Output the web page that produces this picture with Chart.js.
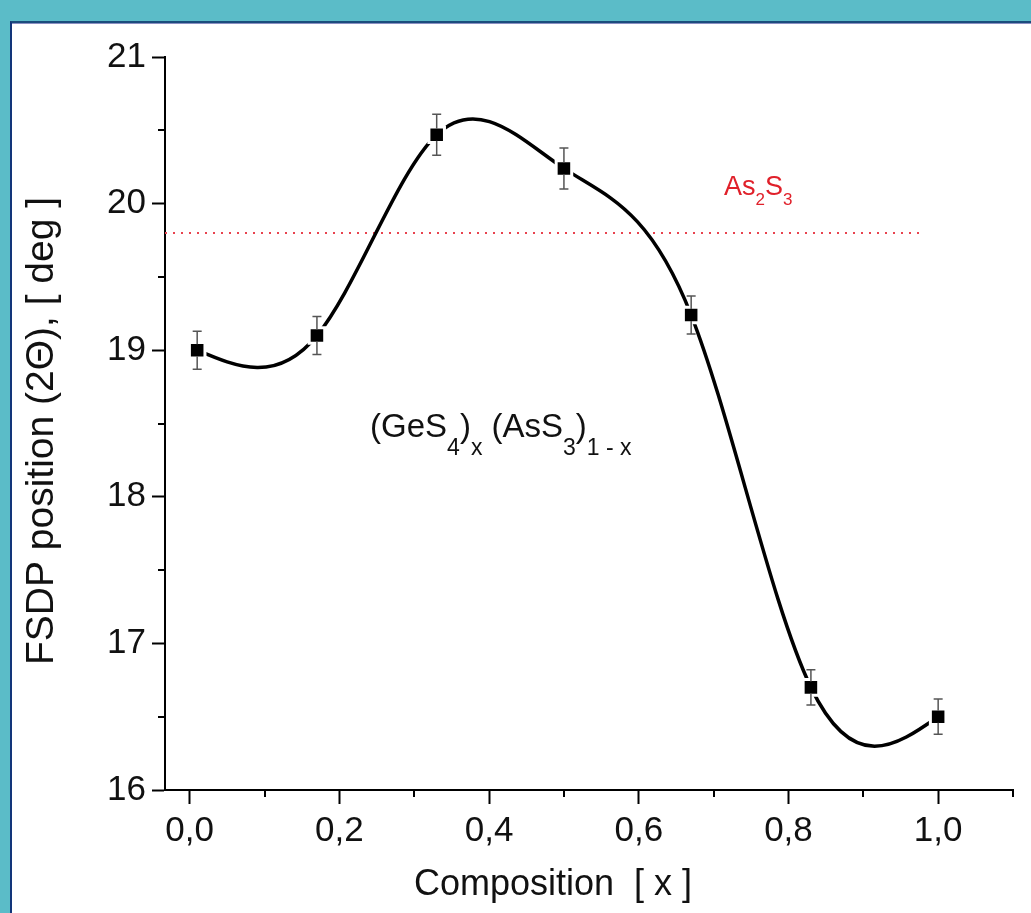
<!DOCTYPE html>
<html>
<head>
<meta charset="utf-8">
<title>FSDP position vs composition</title>
<script src="https://cdn.jsdelivr.net/npm/chart.js@4.4.1/dist/chart.umd.min.js"></script>
<style>
  html, body { margin: 0; padding: 0; }
  body { width: 1031px; height: 913px; background: #5bbcc8; position: relative; overflow: hidden; }
  .panel {
    position: absolute; left: 10px; top: 21px; right: 0; bottom: 0;
    background: #fff;
    border-left: 2px solid #12357a;
    border-top: 2px solid #1b4c7c;
    box-shadow: inset 0 1px 0 #8a8fc2;
  }
  #fsdpChart { position: absolute; left: 0; top: 0; }
</style>
</head>
<body>
<div class="panel"></div>
<canvas id="fsdpChart" width="1031" height="913"></canvas>
<script>
// data
const compositionX = [0.01, 0.17, 0.33, 0.5, 0.67, 0.83, 1.0];
const fsdpPosition = [19.0, 19.1, 20.47, 20.24, 19.24, 16.7, 16.5];
const fsdpError = [0.13, 0.13, 0.14, 0.14, 0.13, 0.12, 0.12];

// As2S3 reference level
const as2s3X = [-0.033, 0.98];
const as2s3Y = [19.8, 19.8];

// ticks (majors get labels, minors are short marks)
const xTickValues = [0, 0.1, 0.2, 0.3, 0.4, 0.5, 0.6, 0.7, 0.8, 0.9, 1.0, 1.1];
const yTickValues = [16, 16.5, 17, 17.5, 18, 18.5, 19, 19.5, 20, 20.5, 21];

const FONT = '"Liberation Sans", Arial, Helvetica, sans-serif';

function isMajorX(v) {
  return Math.abs(v * 5 - Math.round(v * 5)) < 1e-6;
}
function isMajorY(v) {
  return Math.abs(v - Math.round(v)) < 1e-6;
}
function commaLabel(v) {
  return v.toFixed(1).replace(".", ",");
}

// Origin style natural spline through the measured points
const splinePlugin = {
  id: "naturalSpline",
  beforeDatasetDraw(chart, args) {
    if (args.index !== 0) return;
    const meta = args.meta;
    meta.dataset.updateControlPoints(chart.chartArea, meta.iScale.axis);
    const pts = meta.data;
    const n = pts.length - 1;
    const xs = pts.map((p) => p.x);
    const ys = pts.map((p) => p.y);
    const h = [];
    for (let i = 0; i < n; i++) h[i] = xs[i + 1] - xs[i];

    const M = new Array(n + 1).fill(0);
    const b = [], c = [], d = [], a = [];
    for (let i = 1; i < n; i++) {
      a[i] = h[i - 1];
      b[i] = 2 * (h[i - 1] + h[i]);
      c[i] = h[i];
      d[i] = 6 * ((ys[i + 1] - ys[i]) / h[i] - (ys[i] - ys[i - 1]) / h[i - 1]);
    }
    for (let i = 2; i < n; i++) {
      const w = a[i] / b[i - 1];
      b[i] -= w * c[i - 1];
      d[i] -= w * d[i - 1];
    }
    for (let i = n - 1; i >= 1; i--) {
      M[i] = (d[i] - c[i] * M[i + 1]) / b[i];
    }

    const m = [];
    for (let i = 0; i < n; i++) {
      m[i] = (ys[i + 1] - ys[i]) / h[i] - (h[i] * (2 * M[i] + M[i + 1])) / 6;
    }
    m[n] = (ys[n] - ys[n - 1]) / h[n - 1] + (h[n - 1] * (M[n - 1] + 2 * M[n])) / 6;

    for (let i = 0; i <= n; i++) {
      if (i < n) {
        pts[i].cp2x = xs[i] + h[i] / 3;
        pts[i].cp2y = ys[i] + (m[i] * h[i]) / 3;
      }
      if (i > 0) {
        pts[i].cp1x = xs[i] - h[i - 1] / 3;
        pts[i].cp1y = ys[i] - (m[i] * h[i - 1]) / 3;
      }
    }
  },
};

// error bars, minor ticks, labels
const decorPlugin = {
  id: "decor",
  afterDatasetsDraw(chart) {
    const ctx = chart.ctx;
    const xs = chart.scales.x;
    const ys = chart.scales.y;
    ctx.save();
    ctx.strokeStyle = "#555";
    ctx.lineWidth = 1.5;
    compositionX.forEach((x, i) => {
      const px = xs.getPixelForValue(x);
      const py = ys.getPixelForValue(fsdpPosition[i]);
      const top = ys.getPixelForValue(fsdpPosition[i] + fsdpError[i]);
      const bot = ys.getPixelForValue(fsdpPosition[i] - fsdpError[i]);
      ctx.beginPath();
      ctx.moveTo(px, top);
      ctx.lineTo(px, py - 6);
      ctx.moveTo(px, py + 6);
      ctx.lineTo(px, bot);
      ctx.moveTo(px - 4.5, top);
      ctx.lineTo(px + 4.5, top);
      ctx.moveTo(px - 4.5, bot);
      ctx.lineTo(px + 4.5, bot);
      ctx.stroke();
    });
    ctx.restore();
  },
  afterDraw(chart) {
    const ctx = chart.ctx;
    const xs = chart.scales.x;
    const ys = chart.scales.y;
    const area = chart.chartArea;
    ctx.save();

    // minor ticks
    ctx.strokeStyle = "#000";
    ctx.lineWidth = 2;
    ctx.beginPath();
    xTickValues.forEach((v) => {
      if (isMajorX(v)) return;
      const px = Math.round(xs.getPixelForValue(v));
      ctx.moveTo(px, area.bottom);
      ctx.lineTo(px, area.bottom + 7);
    });
    yTickValues.forEach((v) => {
      if (isMajorY(v)) return;
      const py = Math.round(ys.getPixelForValue(v));
      ctx.moveTo(area.left, py);
      ctx.lineTo(area.left - 7, py);
    });
    ctx.stroke();

    // axis titles
    ctx.fillStyle = "#111";
    ctx.textAlign = "center";
    ctx.textBaseline = "middle";
    ctx.font = "36px " + FONT;
    ctx.fillText("Composition  [ x ]", 553, 885);
    ctx.save();
    ctx.translate(42, 431);
    ctx.rotate(-Math.PI / 2);
    ctx.font = "39px " + FONT;
    ctx.fillText("FSDP position (2\u0398), [ deg ]", 0, 0);
    ctx.restore();

    // in-plot labels
    drawRich(ctx, [
      { t: "(GeS" }, { t: "4", sub: true }, { t: ")" }, { t: "x", sub: true },
      { t: " (AsS" }, { t: "3", sub: true }, { t: ")" }, { t: "1 - x", sub: true },
    ], xs.getPixelForValue(0.241), ys.getPixelForValue(18.41), 33, 23, 18, "#111");

    drawRich(ctx, [
      { t: "As" }, { t: "2", sub: true }, { t: "S" }, { t: "3", sub: true },
    ], xs.getPixelForValue(0.714), ys.getPixelForValue(20.06), 27, 17, 10, "#e0202a");

    ctx.restore();
  },
};

function drawRich(ctx, parts, x, y, size, subSize, subDrop, color) {
  ctx.fillStyle = color;
  ctx.textAlign = "left";
  ctx.textBaseline = "alphabetic";
  let cx = x;
  parts.forEach((p) => {
    ctx.font = (p.sub ? subSize : size) + "px " + FONT;
    ctx.fillText(p.t, cx, p.sub ? y + subDrop : y);
    cx += ctx.measureText(p.t).width;
  });
}

const fsdpPoints = compositionX.map((x, i) => ({ x: x, y: fsdpPosition[i] }));
const as2s3Points = as2s3X.map((x, i) => ({ x: x, y: as2s3Y[i] }));

const ctx = document.getElementById("fsdpChart").getContext("2d");
const fsdpChart = new Chart(ctx, {
  type: "line",
  data: {
    datasets: [
      {
        label: "FSDP",
        data: fsdpPoints,
        order: 0,
        borderColor: "#000",
        borderWidth: 3.5,
        tension: 0.4,
        fill: false,
        pointStyle: "rect",
        pointRadius: 11,
        pointBackgroundColor: "#000",
        pointBorderColor: "#fff",
        pointBorderWidth: 3,
        pointHoverRadius: 11,
      },
      {
        label: "As2S3",
        data: as2s3Points,
        order: 1,
        borderColor: "#e8434f",
        borderWidth: 2,
        borderDash: [2, 6],
        pointRadius: 0,
        tension: 0,
        fill: false,
      },
    ],
  },
  options: {
    responsive: false,
    animation: false,
    devicePixelRatio: 1,
    layout: {
      padding: { top: 57, right: 18, left: 0, bottom: 0 },
    },
    plugins: {
      legend: { display: false },
      tooltip: { enabled: false },
    },
    scales: {
      x: {
        type: "linear",
        min: -0.033,
        max: 1.1,
        afterBuildTicks: (axis) => {
          axis.ticks = xTickValues.map((v) => ({ value: v }));
        },
        afterFit: (axis) => {
          axis.height = 123;
        },
        ticks: {
          autoSkip: false,
          maxRotation: 0,
          padding: 6,
          color: "#111",
          font: { family: FONT, size: 35 },
          callback: (v) => (isMajorX(v) ? commaLabel(v) : ""),
        },
        grid: {
          drawOnChartArea: false,
          tickLength: 14,
          tickWidth: 2,
          tickColor: (c) => (c.tick && isMajorX(c.tick.value) ? "#000" : "transparent"),
        },
        border: { display: true, color: "#000", width: 2 },
      },
      y: {
        type: "linear",
        min: 16,
        max: 21,
        afterBuildTicks: (axis) => {
          axis.ticks = yTickValues.map((v) => ({ value: v }));
        },
        afterFit: (axis) => {
          axis.width = 165;
        },
        ticks: {
          autoSkip: false,
          padding: 6,
          color: "#111",
          font: { family: FONT, size: 35 },
          callback: (v) => (isMajorY(v) ? String(v) : ""),
        },
        grid: {
          drawOnChartArea: false,
          tickLength: 13,
          tickWidth: 2,
          tickColor: (c) => (c.tick && isMajorY(c.tick.value) ? "#000" : "transparent"),
        },
        border: { display: true, color: "#000", width: 2 },
      },
    },
  },
  plugins: [splinePlugin, decorPlugin],
});
</script>
</body>
</html>
